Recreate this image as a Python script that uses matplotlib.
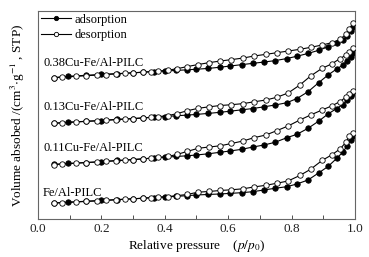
import matplotlib
matplotlib.use("Agg")
import matplotlib.pyplot as plt
from matplotlib.ticker import MultipleLocator

plt.rcParams['font.family'] = ['Liberation Serif', 'DejaVu Serif']
plt.rcParams['mathtext.fontset'] = 'stix'

# Relative pressure points
ads_p = [0.05, 0.095, 0.15, 0.20, 0.25, 0.30, 0.33, 0.365, 0.40, 0.435, 0.47, 0.50, 0.537, 0.574,
         0.606, 0.643, 0.678, 0.713, 0.748, 0.785, 0.817, 0.852, 0.886, 0.915, 0.942, 0.962,
         0.975, 0.987, 0.993]
des_p = [0.993, 0.982, 0.972, 0.953, 0.926, 0.896, 0.86, 0.826, 0.789, 0.753, 0.719, 0.681,
         0.647, 0.61, 0.575, 0.54, 0.505, 0.47, 0.44, 0.41, 0.38, 0.355, 0.33, 0.30, 0.275,
         0.245, 0.215, 0.185, 0.15, 0.12, 0.075, 0.05]

samples = ['0.38Cu-Fe/Al-PILC', '0.13Cu-Fe/Al-PILC', '0.11Cu-Fe/Al-PILC', 'Fe/Al-PILC']

# volumes (curves are vertically offset, arbitrary units)
ads_038 = [141.5, 142.7, 143.7, 144.6, 145.4, 146.2, 146.7, 147.4, 148.0, 148.6, 149.2, 149.8,
           150.6, 151.8, 153.0, 154.4, 155.7, 157.0, 158.4, 160.5, 162.8, 165.6, 168.8, 172.2,
           175.7, 179.0, 183.5, 188.5, 192.5]
des_038 = [195.7, 189.7, 185.0, 179.7, 176.3, 174.0, 171.7, 169.7, 168.0, 166.3, 164.7, 163.0,
           161.0, 159.4, 158.0, 156.4, 154.5, 152.4, 150.4, 148.8, 148.0, 147.5, 146.9, 146.2,
           145.7, 145.1, 144.5, 143.9, 143.3, 142.7, 141.8, 141.2]
ads_013 = [95.7, 96.8, 97.7, 98.5, 99.6, 100.4, 101.0, 101.8, 102.5, 103.2, 103.9, 104.6, 105.6,
           106.7, 107.8, 109.2, 110.5, 112.2, 114.0, 116.3, 120.5, 127.3, 136.5, 144.0, 150.0,
           154.0, 158.5, 162.5, 166.5]
des_013 = [170.7, 167.5, 164.0, 160.5, 155.0, 150.7, 143.0, 134.0, 126.0, 121.7, 119.0, 117.2,
           115.4, 114.3, 113.5, 112.2, 110.7, 108.2, 105.5, 103.4, 102.4, 101.7, 101.1, 100.4,
           99.9, 99.4, 98.8, 98.2, 97.6, 97.0, 96.2, 95.6]
ads_011 = [54.5, 55.5, 56.4, 57.3, 58.5, 59.4, 60.1, 61.0, 61.8, 62.5, 63.2, 64.0, 65.2, 66.7,
           68.0, 69.7, 72.0, 74.0, 76.7, 81.3, 84.7, 90.7, 98.0, 105.0, 110.5, 114.5, 119.0,
           123.5, 126.5]
des_011 = [128.3, 125.5, 122.0, 117.5, 113.0, 109.0, 104.0, 99.0, 93.0, 88.3, 84.0, 81.3, 78.0,
           75.5, 73.2, 72.0, 70.7, 67.5, 64.7, 62.5, 61.5, 60.8, 60.1, 59.4, 58.8, 58.2, 57.6,
           57.0, 56.4, 55.8, 55.0, 54.4]
ads_fe = [16.0, 16.8, 17.7, 18.5, 19.4, 20.2, 20.8, 21.4, 22.0, 22.6, 23.3, 24.0, 24.5, 25.0,
          25.6, 26.3, 27.3, 29.0, 30.7, 32.3, 35.0, 39.0, 46.2, 52.5, 60.5, 67.0, 73.0, 79.0, 83.0]
des_fe = [86.3, 83.0, 77.0, 70.0, 64.0, 58.5, 49.7, 43.5, 38.0, 35.7, 33.7, 32.0, 30.2, 29.2,
          28.5, 27.5, 26.8, 24.5, 23.4, 22.4, 21.7, 21.2, 20.7, 20.1, 19.7, 19.2, 18.6, 18.1,
          17.5, 17.0, 16.3, 15.8]

ads_all = [ads_038, ads_013, ads_011, ads_fe]
des_all = [des_038, des_013, des_011, des_fe]
label_y = [156.5, 112.0, 70.5, 26.0]

fig = plt.figure(figsize=(3.69, 2.57), dpi=100)
ax = fig.add_axes([0.103, 0.148, 0.859, 0.809])

for i, (a, d) in enumerate(zip(ads_all, des_all)):
    ax.plot(ads_p, a, '-', color='black', lw=0.8, marker='o', ms=3.9,
            mfc='black', mec='black', mew=0.6,
            label='adsorption' if i == 0 else None, zorder=2)
    ax.plot(des_p, d, '-', color='black', lw=0.8, marker='o', ms=3.9,
            mfc='white', mec='black', mew=0.6,
            label='desorption' if i == 0 else None, zorder=3)
    ax.text(0.016, label_y[i], samples[i], fontsize=9, va='center', ha='left')

ax.set_xlim(0, 1.0)
ax.set_ylim(0, 208)
ax.xaxis.set_major_locator(MultipleLocator(0.2))
ax.xaxis.set_minor_locator(MultipleLocator(0.1))
ax.xaxis.set_major_formatter(matplotlib.ticker.FormatStrFormatter('%.1f'))
ax.tick_params(axis='x', which='both', direction='in', length=3, width=0.6,
               labelsize=9.5, pad=3, colors='#333333', labelcolor='#222222')
ax.set_yticks([])
for s in ax.spines.values():
    s.set_color('#666666')
    s.set_linewidth(0.8)

ax.set_xlabel(r'Relative pressure    ($p/p_0$)', fontsize=9.5, labelpad=2)
ax.set_ylabel(r'Volume absobed /(cm$^3$$\cdot$g$^{-1}$ , STP)', fontsize=9.5, labelpad=8)

leg = ax.legend(loc='upper left', frameon=False, fontsize=9, handlelength=2.4,
                handletextpad=0.3, borderaxespad=0.1, borderpad=0.1, labelspacing=0.3,
                markerscale=0.8)

fig.savefig('out.png', dpi=100)
